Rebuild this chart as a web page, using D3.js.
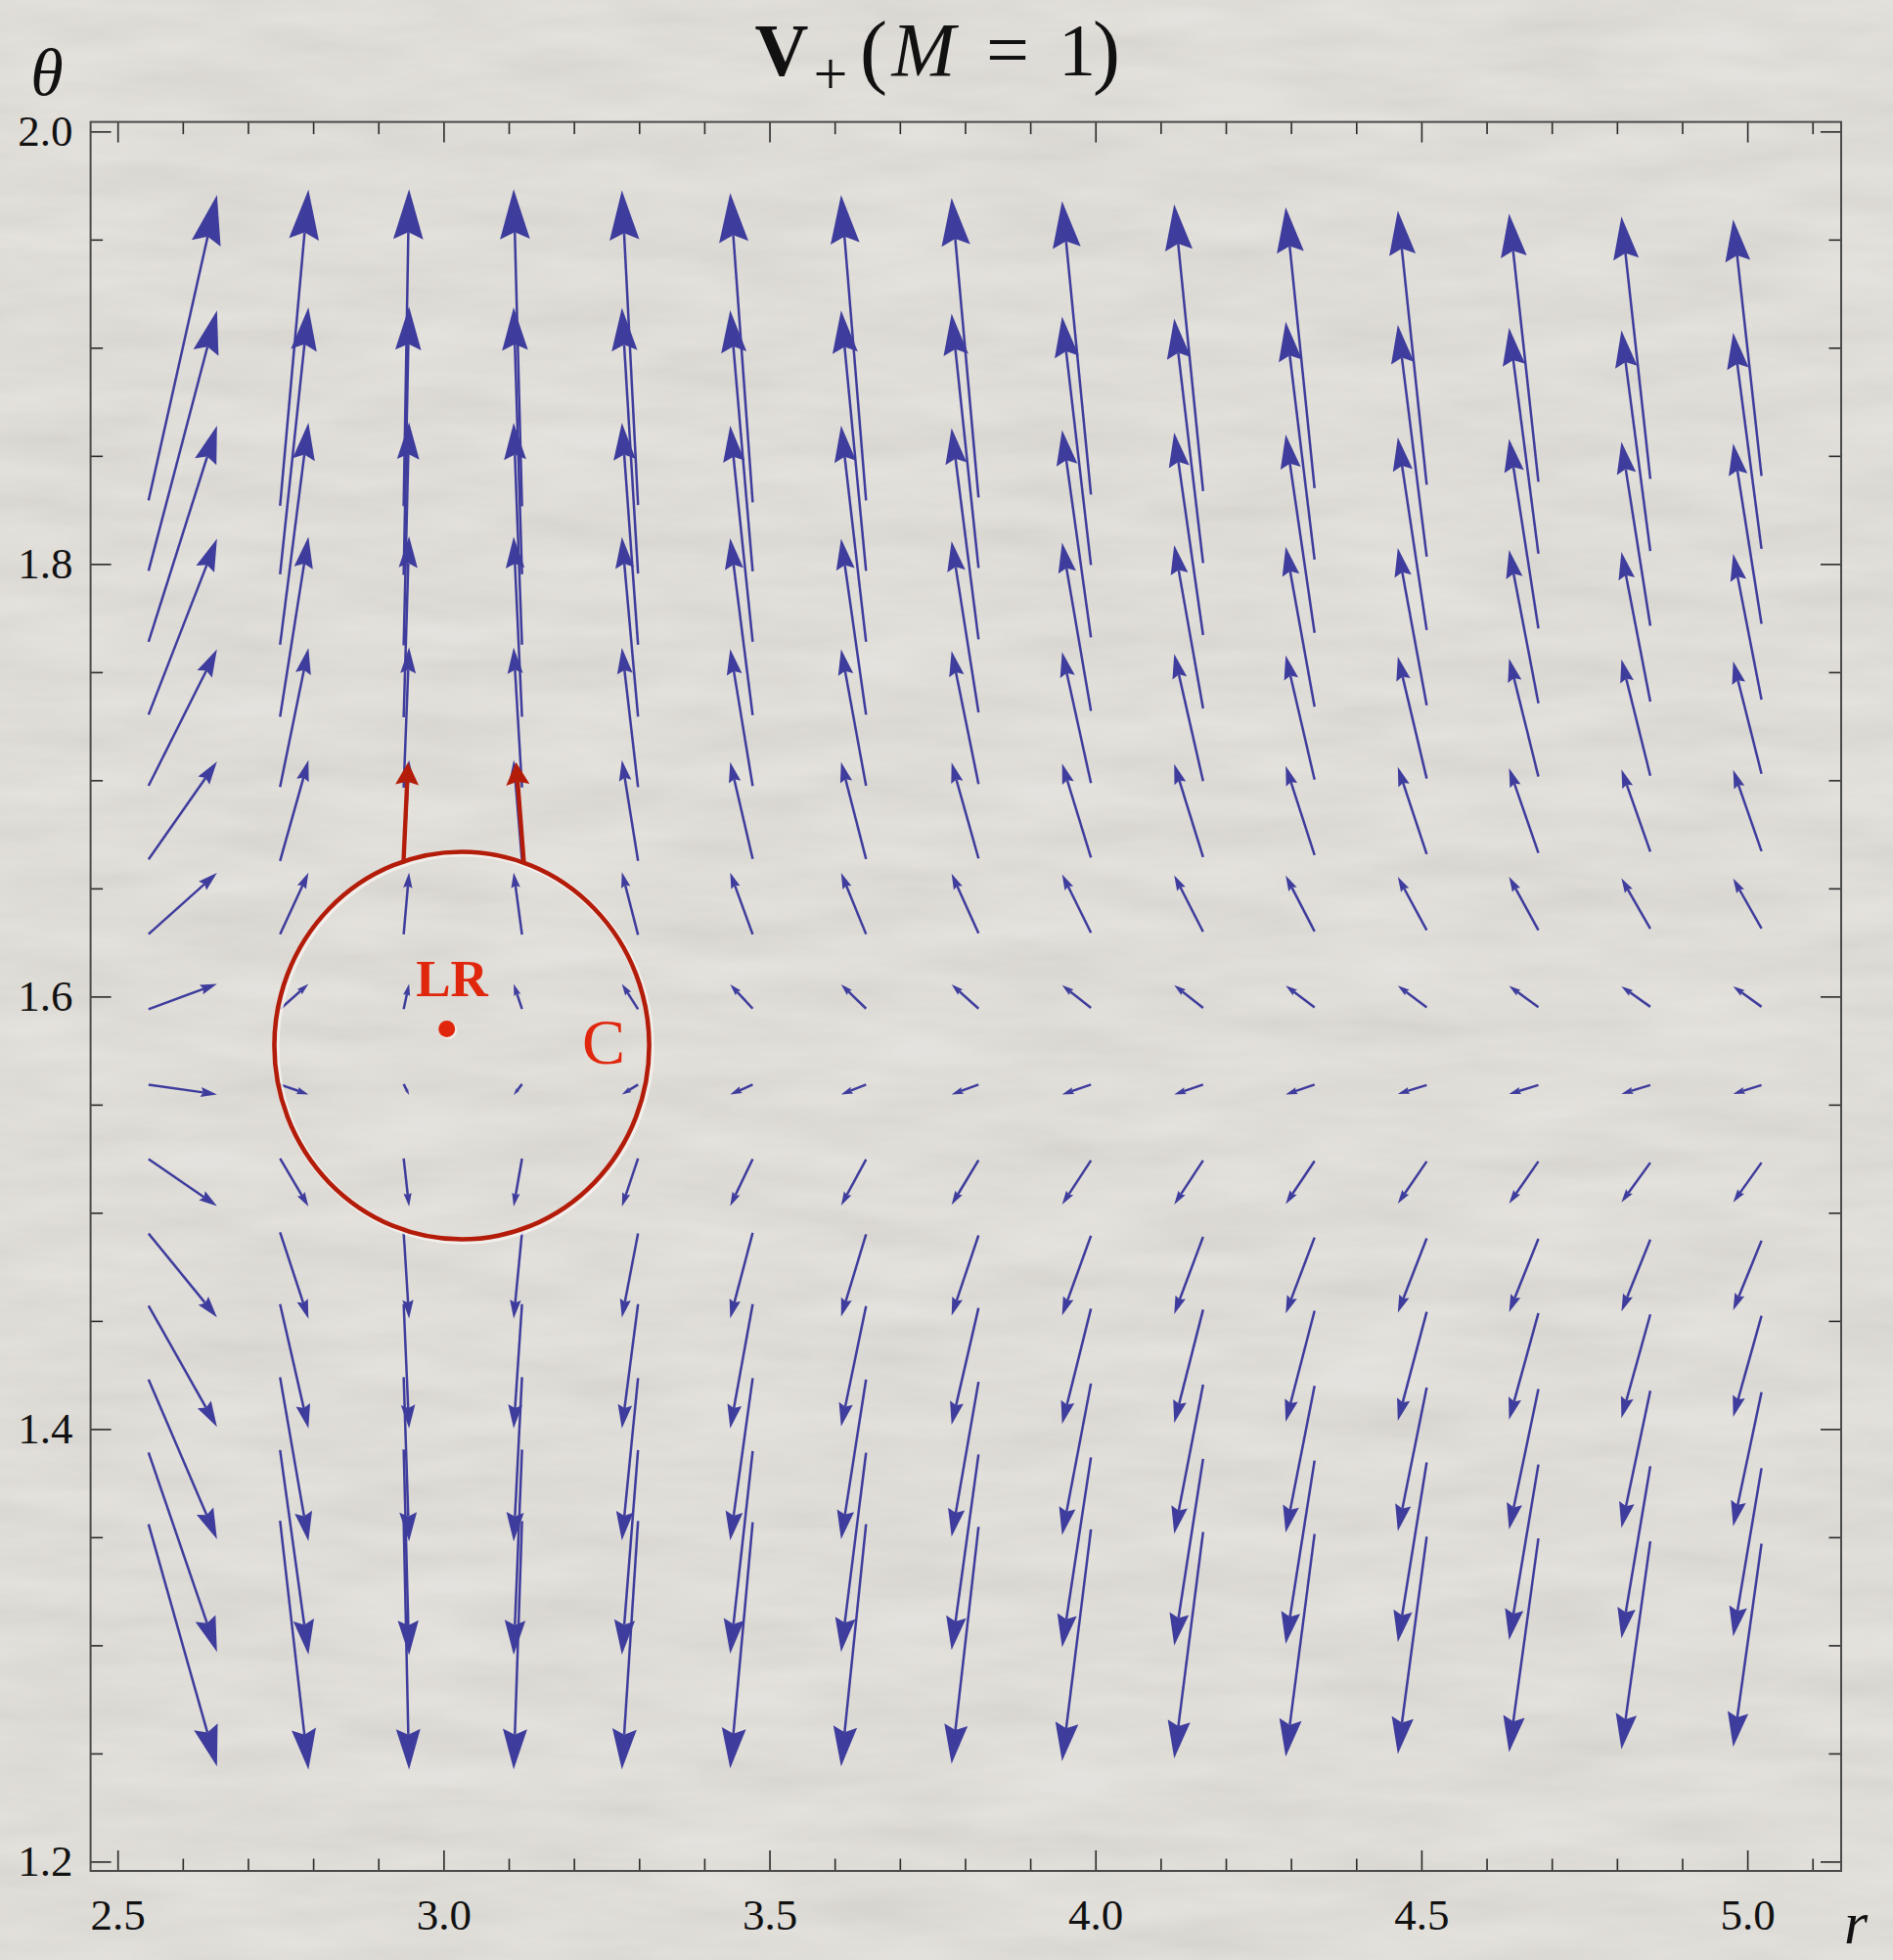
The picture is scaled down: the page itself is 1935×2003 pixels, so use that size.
<!DOCTYPE html>
<html>
<head>
<meta charset="utf-8">
<script src="https://cdn.jsdelivr.net/npm/d3@7"></script>
<style>
  html, body { margin: 0; padding: 0; background: #d9d6d0; }
  svg { display: block; }
</style>
</head>
<body>
<svg id="chart" width="1935" height="2003"></svg>
<script>
// Sample points of the vector field V+ (M = 1)
const rValues = [2.600, 2.771, 2.943, 3.114, 3.286, 3.457, 3.629, 3.800, 3.971, 4.143, 4.314, 4.486, 4.657, 4.829, 5.000];
const thetaValues = [1.900, 1.857, 1.814, 1.771, 1.729, 1.686, 1.643, 1.600, 1.557, 1.514, 1.471, 1.429, 1.386, 1.343, 1.300];

// Arrow extent along r (one value per r column)
const arrowDr = [0.1050, 0.0435, 0.0083, -0.0128, -0.0248, -0.0345, -0.0383, -0.0413, -0.0443, -0.0443, -0.0443, -0.0443, -0.0450, -0.0443, -0.0435];

// Arrow extent along theta (one row per thetaValues entry, columns follow rValues)
const arrowDTheta = [
  [ 0.1412,  0.1462,  0.1466,  0.1466,  0.1455,  0.1430,  0.1412,  0.1385,  0.1357,  0.1326,  0.1299,  0.1267,  0.1240,  0.1213,  0.1186],
  [ 0.1204,  0.1235,  0.1240,  0.1235,  0.1229,  0.1208,  0.1204,  0.1176,  0.1149,  0.1131,  0.1100,  0.1072,  0.1045,  0.1021,  0.1000],
  [ 0.1000,  0.1027,  0.1032,  0.1027,  0.1026,  0.1000,  0.1000,  0.0977,  0.0959,  0.0937,  0.0917,  0.0891,  0.0876,  0.0851,  0.0833],
  [ 0.0814,  0.0833,  0.0837,  0.0833,  0.0831,  0.0819,  0.0814,  0.0792,  0.0778,  0.0756,  0.0740,  0.0727,  0.0709,  0.0692,  0.0674],
  [ 0.0631,  0.0643,  0.0649,  0.0647,  0.0644,  0.0633,  0.0631,  0.0615,  0.0606,  0.0588,  0.0575,  0.0564,  0.0546,  0.0538,  0.0520],
  [ 0.0452,  0.0466,  0.0466,  0.0466,  0.0466,  0.0448,  0.0448,  0.0443,  0.0434,  0.0430,  0.0412,  0.0403,  0.0392,  0.0380,  0.0376],
  [ 0.0283,  0.0285,  0.0285,  0.0287,  0.0290,  0.0285,  0.0283,  0.0276,  0.0271,  0.0262,  0.0258,  0.0247,  0.0247,  0.0234,  0.0231],
  [ 0.0117,  0.0117,  0.0116,  0.0116,  0.0117,  0.0112,  0.0112,  0.0112,  0.0106,  0.0106,  0.0101,  0.0101,  0.0098,  0.0095,  0.0095],
  [-0.0045, -0.0045, -0.0050, -0.0050, -0.0045, -0.0045, -0.0045, -0.0045, -0.0045, -0.0045, -0.0045, -0.0041, -0.0041, -0.0041, -0.0041],
  [-0.0217, -0.0222, -0.0222, -0.0222, -0.0222, -0.0217, -0.0213, -0.0206, -0.0204, -0.0204, -0.0199, -0.0195, -0.0195, -0.0184, -0.0184],
  [-0.0388, -0.0400, -0.0398, -0.0398, -0.0389, -0.0395, -0.0380, -0.0371, -0.0368, -0.0357, -0.0352, -0.0344, -0.0339, -0.0332, -0.0322],
  [-0.0561, -0.0575, -0.0575, -0.0575, -0.0575, -0.0575, -0.0557, -0.0540, -0.0533, -0.0524, -0.0514, -0.0504, -0.0492, -0.0480, -0.0468],
  [-0.0738, -0.0758, -0.0760, -0.0760, -0.0751, -0.0751, -0.0738, -0.0717, -0.0701, -0.0690, -0.0679, -0.0664, -0.0649, -0.0635, -0.0620],
  [-0.0923, -0.0946, -0.0952, -0.0950, -0.0946, -0.0937, -0.0921, -0.0905, -0.0878, -0.0864, -0.0848, -0.0831, -0.0812, -0.0796, -0.0778],
  [-0.1120, -0.1151, -0.1151, -0.1149, -0.1149, -0.1139, -0.1120, -0.1095, -0.1072, -0.1047, -0.1030, -0.1005, -0.0989, -0.0962, -0.0940]
];

// Axis ticks
const xTickValues = [2.5, 3.0, 3.5, 4.0, 4.5, 5.0];
const xTickLabels = ["2.5", "3.0", "3.5", "4.0", "4.5", "5.0"];
const yTickValues = [1.2, 1.4, 1.6, 1.8, 2.0];
const yTickLabels = ["1.2", "1.4", "1.6", "1.8", "2.0"];

// Light ring and the contour drawn around it
const lightRing = { r: 3.005, theta: 1.585, label: "LR" };
const contour = { r: 3.028, theta: 1.5773, halfR: 0.2875, halfTheta: 0.0896, label: "C" };
const contourArrowTail = [[2.9385, 1.6616], [3.1233, 1.6616]];
const contourArrowTip  = [[2.9456, 1.7083], [3.1113, 1.7083]];

// ---------------------------------------------------------------
const W = 1935, H = 2003;
const plot = { left: 92.6, right: 1882, top: 124.6, bottom: 1912 };
const svg = d3.select("#chart");

const x = d3.scaleLinear().domain([2.4586, 5.1439]).range([plot.left, plot.right]);
const y = d3.scaleLinear().domain([1.19566, 2.00441]).range([plot.bottom, plot.top]);

const BLUE = "#3e3c9c";
const DARK_RED = "#b41c0a";
const RED = "#e0270d";
const SERIF = "'Liberation Serif', 'Times New Roman', serif";

// paper background
const defs = svg.append("defs");
const paper = defs.append("filter").attr("id", "paper")
  .attr("x", 0).attr("y", 0).attr("width", "100%").attr("height", "100%");
paper.append("feTurbulence").attr("type", "fractalNoise")
  .attr("baseFrequency", "0.006 0.03").attr("numOctaves", 4).attr("seed", 7);
paper.append("feColorMatrix").attr("type", "matrix")
  .attr("values", "0.5 0 0 0 0.60  0.5 0 0 0 0.59  0.5 0 0 0 0.57  0 0 0 0 0.30");

svg.append("rect").attr("width", W).attr("height", H).attr("fill", "#d9d6d0");
svg.append("rect").attr("width", W).attr("height", H).attr("filter", "url(#paper)");

// axes: inward ticks on all four sides
function minorValues(lo, hi, step, majors) {
  return d3.range(Math.round(lo / step), Math.round(hi / step) + 1)
    .map(k => +(k * step).toFixed(4))
    .filter(v => !majors.some(m => Math.abs(m - v) < 1e-6));
}
const xMinor = minorValues(2.5, 5.1, 0.1, xTickValues);
const yMinor = minorValues(1.2, 2.0, 0.05, yTickValues);

const MAJOR = 21, MINOR = 12.5;
const axesG = svg.append("g").attr("class", "axes");

function styleAxis(g) {
  g.select(".domain").remove();
  g.selectAll(".tick line").attr("stroke", "#2a2a2a").attr("stroke-width", 1.6);
  g.selectAll("text").attr("font-family", SERIF).attr("font-size", 45).attr("fill", "#111");
}

// bottom
axesG.append("g").attr("transform", `translate(0,${plot.bottom})`)
  .call(d3.axisBottom(x).tickValues(xTickValues).tickSize(-MAJOR).tickPadding(28)
    .tickFormat((d, i) => xTickLabels[i]))
  .call(styleAxis);
axesG.append("g").attr("transform", `translate(0,${plot.bottom})`)
  .call(d3.axisBottom(x).tickValues(xMinor).tickSize(-MINOR).tickFormat(""))
  .call(styleAxis);
// top
axesG.append("g").attr("transform", `translate(0,${plot.top})`)
  .call(d3.axisTop(x).tickValues(xTickValues).tickSize(-MAJOR).tickFormat(""))
  .call(styleAxis);
axesG.append("g").attr("transform", `translate(0,${plot.top})`)
  .call(d3.axisTop(x).tickValues(xMinor).tickSize(-MINOR).tickFormat(""))
  .call(styleAxis);
// left
axesG.append("g").attr("transform", `translate(${plot.left},0)`)
  .call(d3.axisLeft(y).tickValues(yTickValues).tickSize(-MAJOR).tickPadding(18)
    .tickFormat((d, i) => yTickLabels[i]))
  .call(styleAxis);
axesG.append("g").attr("transform", `translate(${plot.left},0)`)
  .call(d3.axisLeft(y).tickValues(yMinor).tickSize(-MINOR).tickFormat(""))
  .call(styleAxis);
// right
axesG.append("g").attr("transform", `translate(${plot.right},0)`)
  .call(d3.axisRight(y).tickValues(yTickValues).tickSize(-MAJOR).tickFormat(""))
  .call(styleAxis);
axesG.append("g").attr("transform", `translate(${plot.right},0)`)
  .call(d3.axisRight(y).tickValues(yMinor).tickSize(-MINOR).tickFormat(""))
  .call(styleAxis);

// frame
svg.append("rect")
  .attr("x", plot.left).attr("y", plot.top)
  .attr("width", plot.right - plot.left).attr("height", plot.bottom - plot.top)
  .attr("fill", "none").attr("stroke", "#4a4a4a").attr("stroke-width", 2);

// arrow geometry in screen space
function arrowShape(x0, y0, x1, y1, headLen, headWidth) {
  const dx = x1 - x0, dy = y1 - y0, L = Math.hypot(dx, dy) || 1e-6;
  const ux = dx / L, uy = dy / L, nx = -uy, ny = ux;
  const h = headLen == null ? Math.min(0.5 * L, Math.max(12, 7 + 0.136 * L)) : headLen;
  const w = headWidth == null ? 0.6 * h : headWidth;
  const bx = x1 - ux * h, by = y1 - uy * h;
  const mx = x1 - ux * h * 0.86, my = y1 - uy * h * 0.86;
  return {
    shaft: `M${x0},${y0}L${mx},${my}`,
    head: `M${x1},${y1}L${bx + nx * w / 2},${by + ny * w / 2}L${mx},${my}L${bx - nx * w / 2},${by - ny * w / 2}Z`
  };
}

// field arrows, centred on each sample point
const field = [];
thetaValues.forEach((t, j) => {
  rValues.forEach((r, i) => {
    field.push({ r, t, dr: arrowDr[i], dt: arrowDTheta[j][i] });
  });
});

svg.append("g").attr("class", "field")
  .selectAll("g").data(field).join("g")
  .each(function (d) {
    const s = arrowShape(
      x(d.r - d.dr / 2), y(d.t - d.dt / 2),
      x(d.r + d.dr / 2), y(d.t + d.dt / 2));
    const g = d3.select(this);
    g.append("path").attr("d", s.shaft).attr("fill", "none")
      .attr("stroke", BLUE).attr("stroke-width", 2.5);
    g.append("path").attr("d", s.head).attr("fill", BLUE);
  });

// contour C with its soft highlight
const cx = x(contour.r), cy = y(contour.theta);
const rx = x(contour.r + contour.halfR) - cx;
const ry = y(contour.theta - contour.halfTheta) - cy;
const ann = svg.append("g").attr("class", "annotation");
ann.append("ellipse").attr("cx", cx + 1.6).attr("cy", cy + 1.6).attr("rx", rx).attr("ry", ry)
  .attr("fill", "none").attr("stroke", "#f4f2ee").attr("stroke-width", 7).attr("opacity", 0.85);
ann.append("ellipse").attr("cx", cx).attr("cy", cy).attr("rx", rx).attr("ry", ry)
  .attr("fill", "none").attr("stroke", DARK_RED).attr("stroke-width", 4.6);

// arrows leaving the contour
contourArrowTail.forEach((tail, k) => {
  const tip = contourArrowTip[k];
  const s = arrowShape(x(tail[0]), y(tail[1]), x(tip[0]), y(tip[1]), 23, 24);
  ann.append("path").attr("d", s.shaft).attr("fill", "none")
    .attr("stroke", DARK_RED).attr("stroke-width", 4.4);
  ann.append("path").attr("d", s.head).attr("fill", DARK_RED);
});

// light ring point
ann.append("circle").attr("cx", x(lightRing.r) + 1.5).attr("cy", y(lightRing.theta) + 1.5)
  .attr("r", 9).attr("fill", "#f4f2ee").attr("opacity", 0.8);
ann.append("circle").attr("cx", x(lightRing.r)).attr("cy", y(lightRing.theta))
  .attr("r", 8.5).attr("fill", RED);
ann.append("text").attr("x", 462).attr("y", 1018).attr("text-anchor", "middle")
  .attr("font-family", SERIF).attr("font-weight", "bold").attr("font-size", 53)
  .attr("fill", RED).text(lightRing.label);
ann.append("text").attr("x", 617).attr("y", 1087).attr("text-anchor", "middle")
  .attr("font-family", SERIF).attr("font-size", 66)
  .attr("fill", RED).text(contour.label);

// title  V+(M = 1)
const titleG = svg.append("g").attr("class", "title").attr("font-family", SERIF).attr("fill", "#111");
function titlePiece(txt, cxp, base, size, opts = {}) {
  const t = titleG.append("text").attr("x", cxp).attr("y", base).attr("text-anchor", "middle")
    .attr("font-size", size).text(txt);
  if (opts.bold) t.attr("font-weight", "bold");
  if (opts.italic) t.attr("font-style", "italic");
  return t;
}
titlePiece("V", 799, 77, 76, { bold: true });
titlePiece("+", 849, 96, 62);
titlePiece("(", 893, 80, 84);
titlePiece("M", 944, 77, 78, { italic: true });
titlePiece("=", 1030, 77, 78);
titlePiece("1", 1101, 77, 76);
titlePiece(")", 1131, 80, 84);

// axis names
svg.append("text").attr("x", 48).attr("y", 97).attr("text-anchor", "middle")
  .attr("font-family", SERIF).attr("font-style", "italic").attr("font-size", 68)
  .attr("fill", "#111").text("θ");
svg.append("text").attr("x", 1897).attr("y", 1986).attr("text-anchor", "middle")
  .attr("font-family", SERIF).attr("font-style", "italic").attr("font-size", 62)
  .attr("fill", "#111").text("r");
</script>
</body>
</html>
